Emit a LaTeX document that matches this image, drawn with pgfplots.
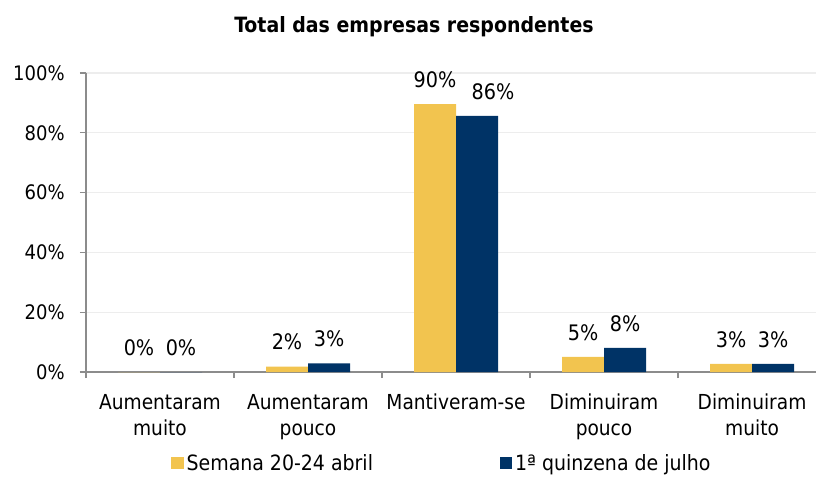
\documentclass[border=0pt]{standalone}
\usepackage{fontspec}
\setmainfont{DejaVu Sans Condensed}
\usepackage{pgfplots}
\pgfplotsset{compat=1.18}
\definecolor{cyellow}{HTML}{F2C44F}
\definecolor{cnavy}{HTML}{003366}
\definecolor{caxis}{HTML}{8C8C8C}
\definecolor{cgrid}{HTML}{EDEDED}
\begin{document}
\begin{tikzpicture}
\begin{axis}[
  at={(0,0)}, anchor=south west,
  scale only axis, width=547.5pt, height=224.25pt,
  ybar=0pt, bar width=31.5pt,
  xmin=-0.5, xmax=4.432, ymin=0, ymax=100,
  axis lines*=left,
  axis line style={draw=caxis, line width=0.9pt},
  tick style={draw=caxis, line width=0.9pt},
  tick align=outside, major tick length=4.5pt,
  ymajorgrids, grid style={draw=cgrid, line width=0.9pt},
  ytick={0,20,40,60,80,100},
  /pgf/number format/assume math mode=true,
  yticklabel={\pgfmathprintnumber{\tick}\%},
  yticklabel style={font=\fontsize{15}{18}\selectfont, xshift=-8pt},
  xtick={-0.5,0.5,1.5,2.5,3.5},
  xticklabels={,,,,},
  extra x ticks={0,1,2,3,4},
  extra x tick labels={{Aumentaram\\muito},{Aumentaram\\pouco},{Mantiveram-se},{Diminuiram\\pouco},{Diminuiram\\muito}},
  extra x tick style={tick style={draw=none}},
  xticklabel style={align=center, anchor=north, font=\fontsize{15.5}{19.5}\selectfont, yshift=-8.5pt},
  title={Total das empresas respondentes},
  title style={at={(0.4493,1)}, anchor=base, yshift=24pt, font=\fontsize{15.8}{18}\selectfont\bfseries},
  nodes near coords={\pgfmathprintnumber[fixed,precision=0]{\pgfplotspointmeta}\%},
  every node near coord/.append style={anchor=base, yshift=12.5pt, font=\fontsize{16}{18}\selectfont, text=black},
  legend columns=2,
  legend style={at={(0.488,-0.305)}, anchor=center, draw=none, fill=none,
    font=\fontsize{15.8}{18}\selectfont,
    /tikz/every even column/.append style={column sep=93pt}},
  legend image code/.code={\fill[#1] (0pt,-4pt) rectangle (9.5pt,5pt);},
]
\addplot[fill=cyellow, draw=none] coordinates {(0,0) (1,1.8) (2,89.6) (3,5.1) (4,2.7)};
\addplot[fill=cnavy, draw=none, coordinate style/.condition={x==2}{xshift=12pt}] coordinates {(0,0) (1,2.9) (2,85.7) (3,8.1) (4,2.7)};
\legend{Semana 20-24 abril, 1ª quinzena de julho}
\end{axis}
\pgfresetboundingbox
\path (-64.5pt,-79.5pt) rectangle (547.5pt,279pt);
\end{tikzpicture}
\end{document}
